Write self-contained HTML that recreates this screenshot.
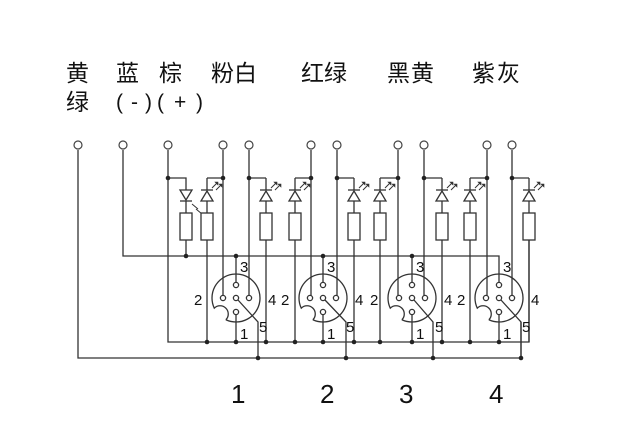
<!DOCTYPE html>
<html><head><meta charset="utf-8"><style>
html,body{margin:0;padding:0;background:#fff;}
svg{display:block}
text{font-family:"Liberation Sans","Noto Sans CJK SC",sans-serif;fill:#111}
</style></head><body>
<svg width="617" height="430" viewBox="0 0 617 430" xmlns="http://www.w3.org/2000/svg">
<g font-size="23" style="font-family:'Noto Sans CJK SC',sans-serif">
<text x="66" y="81">黄</text><text x="116" y="81">蓝</text><text x="159" y="81">棕</text>
<text x="211" y="81">粉白</text><text x="301" y="81">红绿</text><text x="387" y="81" letter-spacing="1">黑黄</text><text x="472" y="81" letter-spacing="2">紫灰</text>
<text x="66" y="110">绿</text>
</g>
<g font-size="21">
<text x="116" y="109">(</text><text x="131" y="109">-</text><text x="145" y="109">)</text>
<text x="157" y="109">(</text><text x="174" y="109">+</text><text x="196" y="109">)</text>
</g>
<g stroke="#333" stroke-width="1.3" fill="none">
<path d="M78 150V358H521V322"/>
<path d="M123 150V256H499V266"/>
<path d="M168 150V342H529V240"/>
<path d="M168 178H186V190"/>
<path d="M186 201V213M186 240V256"/>
</g>
<g font-size="26" fill="#111">
<text x="231" y="403">1</text><text x="320" y="403">2</text><text x="399" y="403">3</text><text x="489" y="403">4</text>
</g>
<g stroke="#333" stroke-width="1.3" fill="#fff">
<path d="M180 190H192L186 200Z"/><path d="M180 201H192" fill="none"/>
<rect x="180" y="213" width="12" height="27"/>
<path d="M192 204L198 209M196 209L202 214" fill="none" stroke-width="1"/>
</g>
<circle cx="168" cy="178" r="2.3" fill="#222"/><circle cx="186" cy="256" r="2.3" fill="#222"/>
<g fill="#fff" stroke="#444" stroke-width="1.2">
<circle cx="78" cy="145" r="4"/><circle cx="123" cy="145" r="4"/><circle cx="168" cy="145" r="4"/>
</g>
<script>
const ns="http://www.w3.org/2000/svg";
const svg=document.querySelector('svg');
function el(t,a,p){const e=document.createElementNS(ns,t);for(const k in a)e.setAttribute(k,a[k]);(p||svg).appendChild(e);return e;}
const C=[{c:236,t1:223,t2:249,l1:207,l2:266,p5:258},{c:323,t1:311,t2:337,l1:295,l2:354,p5:346},{c:412,t1:398,t2:424,l1:380,l2:442,p5:433},{c:499,t1:487,t2:512,l1:470,l2:529,p5:521}];
const g=el('g',{stroke:'#333','stroke-width':'1.3',fill:'none'});
C.forEach((o,i)=>{
 const c=o.c,cy=298;
 el('path',{d:`M${o.t1} 150V295.5M${o.t2} 150V295.5`},g);
 el('path',{d:`M${o.l1} 178H${o.t1}M${o.t2} 178H${o.l2}`},g);
 [o.l1,o.l2].forEach(x=>{
   el('path',{d:`M${x} 178V190M${x} 201V213M${x} 240V342`},g);
   el('path',{d:`M${x-6} 201H${x+6}L${x} 191Z`,fill:'#fff'},g);
   el('path',{d:`M${x-6} 190H${x+6}`},g);
   el('rect',{x:x-6,y:213,width:12,height:27,fill:'#fff'},g);
   el('path',{d:`M${x+5} 188L${x+10} 183M${x+9} 190L${x+14} 185`,'stroke-width':'1'},g);
   el('path',{d:`M${x+8} 182L${x+11} 182L${x+11} 185Z M${x+12} 184L${x+15} 184L${x+15} 187Z`,fill:'#333','stroke-width':'0.6'},g);
 });
 if(i<3) el('path',{d:`M${c} 256V282.5`},g); else el('path',{d:`M${c} 266V282.5`},g);
 el('path',{d:`M${c} 314.5V342`},g);
 el('path',{d:`M${c+2} 300L${o.p5} 322V358`},g);
 const r=24,a1=115*Math.PI/180,a2=155*Math.PI/180;
 const x1=c+r*Math.cos(a1),y1=cy+r*Math.sin(a1),x2=c+r*Math.cos(a2),y2=cy+r*Math.sin(a2);
 el('path',{d:`M${x1} ${y1}A${r} ${r} 0 1 0 ${x2} ${y2}A6 6 0 0 1 ${x1} ${y1}`},g);
 [[c,285],[c,298],[c,312],[c-13,298],[c+13,298]].forEach(p=>el('circle',{cx:p[0],cy:p[1],r:2.6,fill:'#fff'},g));
 const dots=[[o.t1,178],[o.t2,178],[o.l1,342],[c,342],[o.p5,358]];
 if(i<3){dots.push([o.l2,342]);dots.push([c,256]);}
 dots.forEach(p=>el('circle',{cx:p[0],cy:p[1],r:2.3,fill:'#222',stroke:'none'}));
 [o.t1,o.t2].forEach(x=>el('circle',{cx:x,cy:145,r:4,fill:'#fff',stroke:'#444','stroke-width':'1.2'}));
 const L=[['3',c+4,272],['2',c-42,305],['4',c+32,305],['1',c+4,339],['5',c+23,332]];
 L.forEach(l=>{const t=el('text',{x:l[1],y:l[2],'font-size':'15'});t.textContent=l[0];});
});
</script>
</svg>
</body></html>
